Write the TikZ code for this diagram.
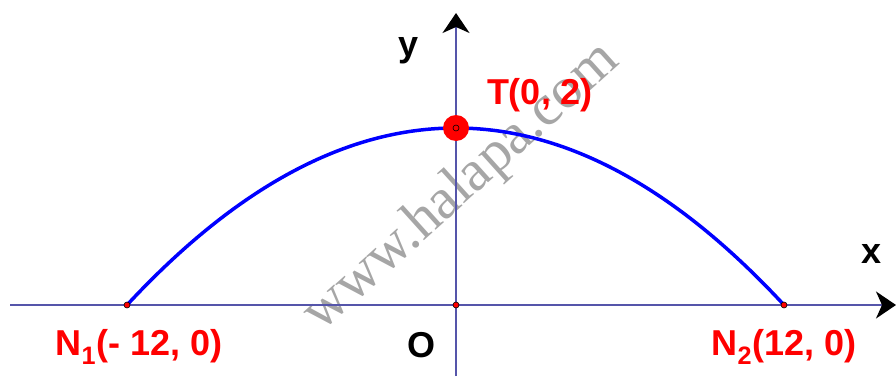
\documentclass[tikz,border=0pt]{standalone}
\usepackage{fontspec}
\setmainfont{Liberation Sans}
\newfontfamily\wmfont{Liberation Serif}
\usetikzlibrary{arrows.meta}
\definecolor{axisblue}{RGB}{85,85,170}
\definecolor{curveblue}{RGB}{0,0,255}
\begin{document}
\begin{tikzpicture}[x=1pt,y=1pt,
  axisline/.style={draw=axisblue,line width=2pt},
  tip/.style={-{Stealth[length=20pt,width=27pt,inset=6pt,black]}},
  smalldot/.style={circle,fill=red,draw=black,line width=0.6pt,inner sep=0pt,minimum size=6pt},
  redlbl/.style={text=red,font=\bfseries\fontsize{36}{36}\selectfont},
  blacklbl/.style={text=black,font=\bfseries\fontsize{36}{36}\selectfont},
  wm/.style={text=black!35,font=\wmfont\fontsize{58}{58}\selectfont}]
\useasboundingbox (0,0) rectangle (896,376);
% watermark
\node[wm,rotate=42] (wmark) at (462,188) {www.halapa.com};
% points
\coordinate (xs) at (10,71);
\coordinate (xe) at (896,71);
\coordinate (ys) at (456,0);
\coordinate (ye) at (456,363);
% axes
\draw[axisline,tip] (xs) -- (xe);
\draw[axisline,tip] (ys) -- (ye);
% parabola
\coordinate (n1) at (127,71);
\coordinate (n2) at (784,71);
\coordinate (t) at (456,248);
\draw[curveblue,line width=3.5pt] (n1) .. controls (346.3,307) and (565.3,307) .. (n2);
% big red dot
\fill[red] (t) circle (13);
\node[smalldot] (tdot) at (t) {};
\node[smalldot] (n1dot) at (n1) {};
\node[smalldot] (odot) at (456,71) {};
\node[smalldot] (n2dot) at (n2) {};
% labels
\node[redlbl] (tl) at (540,281) {T(0, 2)};
\node[redlbl] (n1l) at (139,29) {N\textsubscript{1}(- 12, 0)};
\node[redlbl] (n2l) at (784,29) {N\textsubscript{2}(12, 0)};
\node[blacklbl] (ol) at (421,31) {O};
\node[blacklbl] (xl) at (871,122) {x};
\node[blacklbl] (yl) at (409,325) {y};
\end{tikzpicture}
\end{document}
